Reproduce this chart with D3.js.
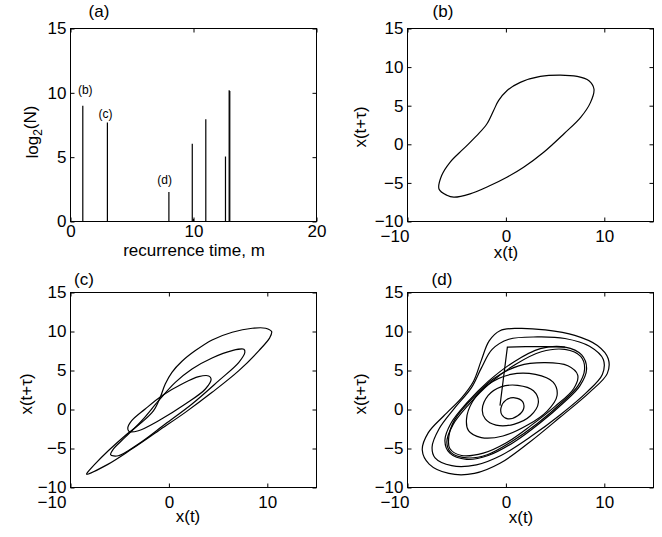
<!DOCTYPE html>
<html>
<head>
<meta charset="utf-8">
<script src="https://cdn.jsdelivr.net/npm/d3@7"></script>
<style>
  body { margin: 0; background: #fff; }
  svg text { font-family: "Liberation Sans", Arial, Helvetica, sans-serif; fill: #000; }
</style>
</head>
<body>
<div id="chart"></div>
<script>
'use strict';

// ---- (a) recurrence time histogram ----
var recTimes = [1, 3, 8, 9.9, 10, 11, 12.6, 12.9, 12.95];
var recLog2N = [9.0, 7.7, 2.3, 6.05, 0.2, 7.95, 5.05, 10.2, 10.15];
var stemTags  = ['(b)', '(c)', '(d)'];
var stemTagX  = [1.2, 2.85, 7.65];
var stemTagY  = [10.25, 8.4, 3.25];

var xTicksA = [0, 10, 20];
var yTicksA = [0, 5, 10, 15];
var xTicksPhase = [-10, 0, 10];
var yTicksPhase = [-10, -5, 0, 5, 10, 15];

// ---- (b) period-1 orbit, [x(t), x(t+tau)] ----
var orbitB = [
  [-6.8,-5.78],[-6.0,-6.6],[-5.3,-6.85],[-3.64,-6.42],[-1.6,-5.34],[0.1,-4.27],
  [1.8,-2.97],[3.84,-1.03],[5.88,1.34],[7.6,3.49],[8.6,5.43],[8.95,7.16],
  [8.44,8.23],[7.24,8.79],[5.54,8.97],[3.5,8.79],[1.46,8.02],[0.1,6.94],
  [-0.75,5.65],[-1.26,4.35],[-1.94,2.63],[-2.96,1.12],[-4.32,-0.6],[-5.68,-2.33],
  [-6.53,-4.05]
];

// ---- (c) period-3 orbit, three nested loops ----
var orbitCOuter = [
  [-8.37,-8.29],[-6.16,-7.0],[-3.78,-5.08],[-1.05,-2.72],[1.67,-0.37],[4.39,2.2],
  [7.11,4.98],[9.15,7.55],[10.24,9.18],[10.44,9.99],[9.83,10.42],[8.47,10.42],
  [6.43,9.91],[4.39,8.92],[2.69,7.55],[1.33,6.18],[0.31,4.77],[-0.37,3.27],
  [-0.88,1.56],[-1.56,-0.15],[-2.76,-1.65],[-4.46,-3.36],[-6.16,-5.29],[-7.52,-7.0],
  [-8.27,-8.07]
];
var orbitCMiddle = [
  [7.72,7.34],[7.62,7.72],[6.43,7.55],[4.39,6.61],[2.35,5.2],[0.65,3.48],
  [-1.05,1.13],[-2.76,-1.44],[-4.46,-3.58],[-5.65,-5.08],[-5.92,-5.8],[-5.14,-5.93],
  [-3.1,-4.43],[-0.37,-1.87],[2.35,0.7],[5.07,3.7],[7.11,6.05]
];
var orbitCInner = [
  [4.29,3.91],[4.05,4.3],[3.03,4.21],[1.33,3.27],[-0.71,1.77],[-2.41,0.06],
  [-3.78,-1.44],[-4.18,-2.38],[-4.05,-2.81],[-3.1,-2.72],[-1.05,-1.44],[1.67,0.7],
  [3.71,2.63]
];

// ---- (d) chaotic trajectory, read loop by loop ----
var loopD1 = [[-0.5,0.2],[0.0,1.2],[0.9,1.5],[1.7,1.0],[1.8,0.1],[1.2,-0.8],[0.2,-1.2],[-0.4,-0.7]];
var loopD2 = [[-2.4,0.0],[-1.8,1.8],[-0.5,2.9],[1.2,3.1],[2.8,2.4],[3.3,0.9],[2.5,-0.8],[0.8,-1.9],[-1.0,-2.0],[-2.1,-1.2]];
var loopD3 = [[-4.0,-1.2],[-3.4,1.0],[-1.8,3.2],[0.5,4.5],[3.0,4.5],[4.8,3.5],[5.2,1.8],[4.2,-0.2],[2.2,-2.0],[-0.3,-3.4],[-2.5,-3.6],[-3.8,-2.7]];
var loopD4 = [[-5.8,-3.5],[-5.2,-1.3],[-3.5,1.3],[-1.3,3.9],[1.3,5.6],[4.0,6.0],[6.3,5.6],[7.3,4.4],[6.9,2.7],[5.0,0.4],[2.5,-2.1],[0,-4.3],[-2.3,-5.6],[-4.5,-5.9],[-5.7,-5.0]];
var loopD5 = [[-6.2,-4.0],[-5.6,-1.8],[-4.0,0.8],[-1.8,3.6],[0.8,6.1],[3.5,7.8],[6.0,8.0],[7.7,7.0],[8.2,5.2],[7.5,3.0],[5.8,0.8],[3.4,-1.8],[0.8,-4.2],[-1.8,-5.9],[-4.0,-6.4],[-5.7,-5.6]];
var loopD6 = [[-6.0,-4.2],[-5.4,-2.0],[-3.8,0.6],[-1.6,3.4],[1.0,5.8],[3.6,7.4],[6.0,7.7],[7.6,6.8],[8.0,5.2],[7.3,3.0],[5.6,0.8],[3.2,-1.8],[0.6,-4.1],[-1.9,-5.8],[-4.0,-6.2],[-5.6,-5.5]];
var loopD7 = [[-7.5,-4.8],[-6.8,-2.5],[-5.2,0.2],[-3.5,2.8],[-2.5,5.3],[-1.4,7.7],[0.3,9.0],[3.2,9.3],[6.0,9.1],[8.5,8.1],[9.9,6.4],[9.8,4.5],[8.2,2.2],[5.6,-0.6],[2.5,-3.5],[-0.5,-5.9],[-3.0,-7.1],[-5.5,-7.2],[-7.2,-6.2]];
var loopD8 = [[-8.5,-5.2],[-7.9,-3.0],[-6.3,-0.8],[-4.5,1.5],[-3.3,3.6],[-2.5,6.3],[-1.7,8.8],[-0.6,10.1],[1.2,10.4],[4.0,10.2],[7.0,9.5],[9.3,8.2],[10.4,6.5],[10.3,4.6],[8.5,2.2],[5.5,-1.0],[2.4,-4.2],[-0.6,-6.9],[-3.2,-8.2],[-5.8,-8.2],[-7.8,-7.0]];
var jumpD = [[-0.6,0.5],[0.15,8.0],[2.0,8.05],[4.0,8.05],[6.0,8.0]];

var FONT = '"Liberation Sans", Arial, Helvetica, sans-serif';
var TICK = 4;

var svg = d3.select('#chart').append('svg')
    .attr('width', 662)
    .attr('height', 537);

function drawFrame(g, x, y, xTicks, yTicks, xPad, minusShift) {
    var w = x.range()[1], h = y.range()[0];
    var fmt = d3.format('d');

    g.append('g').attr('transform', 'translate(0,' + h + ')')
        .call(d3.axisBottom(x).tickValues(xTicks).tickFormat(fmt).tickSize(-TICK).tickPadding(xPad));
    g.append('g')
        .call(d3.axisLeft(y).tickValues(yTicks).tickFormat(fmt).tickSize(-TICK).tickPadding(4));
    g.append('g')
        .call(d3.axisTop(x).tickValues(xTicks).tickFormat('').tickSize(-TICK));
    g.append('g').attr('transform', 'translate(' + w + ',0)')
        .call(d3.axisRight(y).tickValues(yTicks).tickFormat('').tickSize(-TICK));

    g.selectAll('.domain').remove();
    g.selectAll('.tick line').attr('stroke', '#000');
    g.selectAll('.tick text')
        .attr('font-family', FONT)
        .attr('font-size', 17)
        .attr('fill', '#000');
    // first x label sits a little left of its tick, as in the print
    g.selectAll('.tick text').filter(function(d) { return d === -10 && this.getAttribute('dy') === '0.71em'; })
        .attr('dx', minusShift);

    g.append('rect')
        .attr('width', w).attr('height', h)
        .attr('fill', 'none').attr('stroke', '#000').attr('stroke-width', 1);
}

function label(x, y, txt, size) {
    return svg.append('text')
        .attr('x', x).attr('y', y)
        .attr('text-anchor', 'middle')
        .attr('font-size', size || 17)
        .text(txt);
}

var closedLine = d3.line().curve(d3.curveCatmullRomClosed.alpha(0.5));
var straight = d3.line();

// ================= (a) =================
(function() {
    var w = 246, h = 193;
    var g = svg.append('g').attr('transform', 'translate(70.5,28.5)');
    var x = d3.scaleLinear().domain([0, 20]).range([0, w]);
    var y = d3.scaleLinear().domain([0, 15]).range([h, 0]);

    var stems = recTimes.map(function(t, i) { return {t: t, v: recLog2N[i]}; });
    g.selectAll('.stem')
        .data(stems)
        .enter().append('line')
        .attr('class', 'stem')
        .attr('x1', function(d) { return x(d.t); })
        .attr('x2', function(d) { return x(d.t); })
        .attr('y1', y(0))
        .attr('y2', function(d) { return y(d.v); })
        .attr('stroke', '#000')
        .attr('stroke-width', 1.2);

    g.selectAll('.tag')
        .data(stemTags)
        .enter().append('text')
        .attr('class', 'tag')
        .attr('x', function(d, i) { return x(stemTagX[i]); })
        .attr('y', function(d, i) { return y(stemTagY[i]); })
        .attr('dy', '0.35em')
        .attr('text-anchor', 'middle')
        .attr('font-size', 12)
        .text(function(d) { return d; });

    drawFrame(g, x, y, xTicksA, yTicksA, 3.5, 0);

    label(99, 17, '(a)');
    label(194, 256, 'recurrence time, m');

    var yl = svg.append('text')
        .attr('transform', 'translate(38,132) rotate(-90)')
        .attr('text-anchor', 'middle')
        .attr('font-size', 17);
    yl.append('tspan').text('log');
    yl.append('tspan').attr('font-size', 12).attr('dy', '0.35em').text('2');
    yl.append('tspan').attr('dy', '-0.35em').text('(N)');
})();

// ================= phase portraits =================
var phasePanels = [
    {tag: '(b)', left: 407.5, top: 28.5, h: 193, tagX: 443, tagY: 17, xlX: 506, xlY: 258, ylX: 366, ylY: 127, shift: -13,
     loops: [orbitB], lines: []},
    {tag: '(c)', left: 70.5, top: 292.5, h: 195, tagX: 84, tagY: 285, xlX: 188, xlY: 522, ylX: 32, ylY: 394, shift: -19,
     loops: [orbitCOuter, orbitCMiddle, orbitCInner], lines: []},
    {tag: '(d)', left: 407.5, top: 292.5, h: 195, tagX: 442, tagY: 285, xlX: 521, xlY: 523, ylX: 366, ylY: 394, shift: -13,
     loops: [loopD1, loopD2, loopD3, loopD4, loopD5, loopD6, loopD7, loopD8], lines: [jumpD]}
];

phasePanels.forEach(function(p) {
    var w = 246;
    var g = svg.append('g').attr('transform', 'translate(' + p.left + ',' + p.top + ')');
    var x = d3.scaleLinear().domain([-10, 15]).range([0, w]);
    var y = d3.scaleLinear().domain([-10, 15]).range([p.h, 0]);
    var toPx = function(d) { return [x(d[0]), y(d[1])]; };

    g.selectAll('.loop')
        .data(p.loops)
        .enter().append('path')
        .attr('class', 'loop')
        .attr('d', function(d) { return closedLine(d.map(toPx)); })
        .attr('fill', 'none')
        .attr('stroke', '#000')
        .attr('stroke-width', 1.2);

    g.selectAll('.jump')
        .data(p.lines)
        .enter().append('path')
        .attr('class', 'jump')
        .attr('d', function(d) { return straight(d.map(toPx)); })
        .attr('fill', 'none')
        .attr('stroke', '#000')
        .attr('stroke-width', 1.2);

    drawFrame(g, x, y, xTicksPhase, yTicksPhase, 8.5, p.shift);

    label(p.tagX, p.tagY, p.tag);
    label(p.xlX, p.xlY, 'x(t)');
    svg.append('text')
        .attr('transform', 'translate(' + p.ylX + ',' + p.ylY + ') rotate(-90)')
        .attr('text-anchor', 'middle')
        .attr('font-size', 17)
        .text('x(t+\u03c4)');
});
</script>
</body>
</html>
